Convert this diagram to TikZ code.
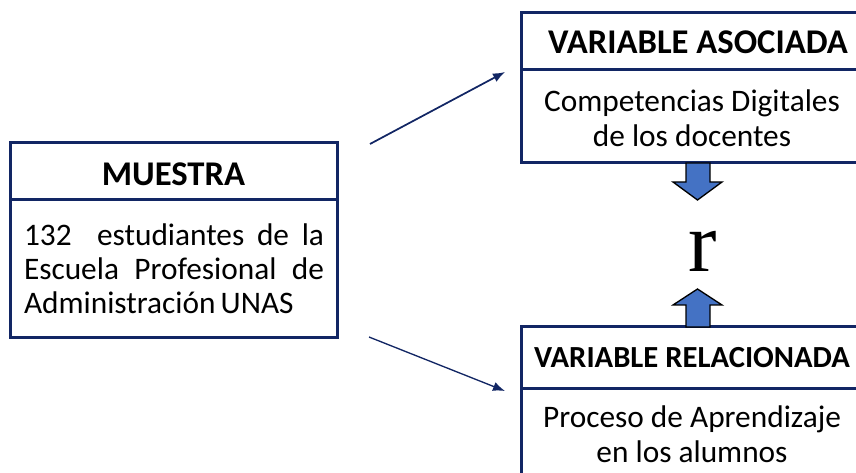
\documentclass[tikz,border=0pt]{standalone}
\usepackage{fontspec}
\setmainfont{Carlito}
\newfontfamily\rfont{Liberation Serif}
\usetikzlibrary{arrows.meta}
\definecolor{navyline}{RGB}{18,38,100}
\definecolor{blockfill}{RGB}{68,114,196}

\begin{document}
\begin{tikzpicture}[x=0.75pt,y=0.75pt,yscale=-1,xscale=1,
  frame/.style={draw=navyline,line width=2.25pt},
  headtxt/.style={inner sep=0.75pt,font=\fontsize{26}{30}\selectfont\bfseries},
  bodytxt/.style={inner sep=0.75pt,font=\fontsize{23.5}{26.5}\selectfont,align=center},
  link/.style={draw=navyline,line width=1.3pt,-{Latex[length=9pt,width=7pt]}},
  blockarrow/.style={draw=black,line width=1pt,fill=blockfill}]
\useasboundingbox (0,0) rectangle (856,473);

%Shape: Rectangle [id:muestra]
\draw [frame] (10,143) rectangle (337,338);
\draw [frame] (10,200) -- (337,200);
%Shape: Rectangle [id:asociada]
\draw [frame] (521,13) rectangle (864,163);
\draw [frame] (521,70) -- (864,70);
%Shape: Rectangle [id:relacionada]
\draw [frame] (521,327) rectangle (864,490);
\draw [frame] (521,389) -- (864,389);

%Shape: Down Arrow
\draw [blockarrow] (686,163) -- (710,163) -- (710,182) -- (722,182) -- (697.5,200) -- (673,182) -- (686,182) -- cycle;
%Shape: Up Arrow
\draw [blockarrow] (686,327) -- (710,327) -- (710,305) -- (722,305) -- (697.5,289) -- (673,305) -- (686,305) -- cycle;

% Text Node
\node [headtxt] (muestraHead) at (173.5,174) {MUESTRA};
% Text Node
\node [bodytxt,font=\fontsize{23.5}{25.5}\selectfont,align=justify,text width=225pt] (muestraBody) at (174,269)
  {132 \ estudiantes de la\linebreak Escuela Profesional de\linebreak Administración\,UNAS};
% Text Node
\node [headtxt] (asociadaHead) at (698,42) {VARIABLE ASOCIADA};
% Text Node
\node [bodytxt] (asociadaBody) at (692,118) {Competencias Digitales\\de los docentes};
% Text Node
\node [headtxt,font=\fontsize{23}{27}\selectfont\bfseries] (relacionadaHead) at (692,358) {VARIABLE RELACIONADA};
% Text Node
\node [bodytxt] (relacionadaBody) at (692,434) {Proceso de Aprendizaje\\en los alumnos};
% Text Node
\node [inner sep=0pt,font=\fontsize{64}{64}\selectfont\rfont] (coefR) at (703,251) {r};

%Straight Lines
\coordinate (fromUp) at (370,144);
\coordinate (toUp) at (505,72);
\coordinate (fromDown) at (369,337);
\coordinate (toDown) at (505,391);
\draw [link] (fromUp) -- (toUp);
\draw [link,line width=1pt] (fromDown) -- (toDown);

\end{tikzpicture}
\end{document}
